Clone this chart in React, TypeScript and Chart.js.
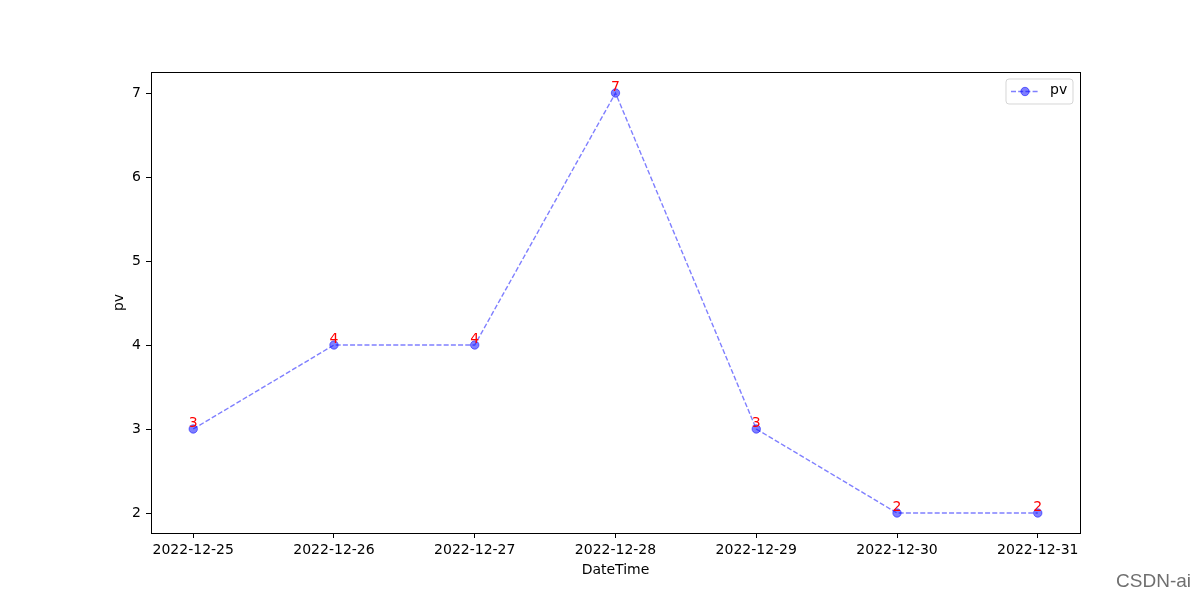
import React, { useEffect, useRef } from "react";
import { Chart, registerables } from "chart.js";

Chart.register(...registerables);

const categories = ["2022-12-25", "2022-12-26", "2022-12-27", "2022-12-28", "2022-12-29", "2022-12-30", "2022-12-31"];
const pvValues = [3, 4, 4, 7, 3, 2, 2];
const yTicks = [2, 3, 4, 5, 6, 7];
const seriesName = "pv";
const xTitle = "DateTime";
const yTitle = "pv";
const watermark = "CSDN-ai";

const FONT = "'DejaVu Sans', sans-serif";
const LINE_COLOR = "rgba(0,0,255,0.5)";

export default function App() {
  const ref = useRef<HTMLCanvasElement | null>(null);

  useEffect(() => {
    if (!ref.current) return;
    const overlay = {
      id: "overlay",
      afterDraw(chart: any) {
        const ctx = chart.ctx;
        const ca = chart.chartArea;
        const xs = chart.scales.x;
        const ys = chart.scales.y;
        ctx.save();
        // frame
        ctx.strokeStyle = "#000";
        ctx.lineWidth = 1;
        ctx.strokeRect(Math.round(ca.left) + 0.5, Math.round(ca.top) + 0.5, Math.round(ca.right - ca.left), Math.round(ca.bottom - ca.top));
        // value labels
        ctx.fillStyle = "red";
        ctx.font = `14px ${FONT}`;
        ctx.textAlign = "center";
        ctx.textBaseline = "alphabetic";
        pvValues.forEach((v, i) => {
          ctx.fillText(String(v), xs.getPixelForValue(i), ys.getPixelForValue(v) - 2.5);
        });
        // axis titles
        ctx.fillStyle = "#000";
        ctx.textBaseline = "middle";
        ctx.fillText(xTitle, (ca.left + ca.right) / 2, 570);
        ctx.save();
        ctx.translate(119, (ca.top + ca.bottom) / 2);
        ctx.rotate(-Math.PI / 2);
        ctx.fillText(yTitle, 0, 0);
        ctx.restore();
        // legend
        const lx = 1006, ly = 79, lw = 67, lh = 25, r = 3;
        ctx.beginPath();
        ctx.moveTo(lx + r, ly);
        ctx.lineTo(lx + lw - r, ly);
        ctx.quadraticCurveTo(lx + lw, ly, lx + lw, ly + r);
        ctx.lineTo(lx + lw, ly + lh - r);
        ctx.quadraticCurveTo(lx + lw, ly + lh, lx + lw - r, ly + lh);
        ctx.lineTo(lx + r, ly + lh);
        ctx.quadraticCurveTo(lx, ly + lh, lx, ly + lh - r);
        ctx.lineTo(lx, ly + r);
        ctx.quadraticCurveTo(lx, ly, lx + r, ly);
        ctx.closePath();
        ctx.fillStyle = "rgba(255,255,255,0.8)";
        ctx.fill();
        ctx.strokeStyle = "rgba(204,204,204,0.8)";
        ctx.lineWidth = 1;
        ctx.stroke();
        ctx.strokeStyle = LINE_COLOR;
        ctx.lineWidth = 1.4;
        ctx.setLineDash([5, 2.2]);
        ctx.beginPath();
        ctx.moveTo(1011, 91.5);
        ctx.lineTo(1039, 91.5);
        ctx.stroke();
        ctx.setLineDash([]);
        ctx.beginPath();
        ctx.arc(1025, 91.5, 4.2, 0, Math.PI * 2);
        ctx.fillStyle = LINE_COLOR;
        ctx.fill();
        ctx.lineWidth = 1;
        ctx.stroke();
        ctx.fillStyle = "#000";
        ctx.textAlign = "left";
        ctx.textBaseline = "middle";
        ctx.font = `14px ${FONT}`;
        ctx.fillText(seriesName, 1050, 90);
        // watermark
        ctx.font = `19px 'Liberation Sans', Arial, sans-serif`;
        ctx.textAlign = "right";
        ctx.textBaseline = "alphabetic";
        ctx.fillStyle = "rgba(95,95,95,0.9)";
        ctx.fillText(watermark, 1191, 587);
        ctx.restore();
      },
    };

    const chart = new Chart(ref.current, {
      type: "line",
      data: {
        datasets: [
          {
            label: seriesName,
            data: pvValues.map((v, i) => ({ x: i, y: v })),
            borderColor: LINE_COLOR,
            backgroundColor: LINE_COLOR,
            borderWidth: 1.4,
            borderDash: [5, 2.2],
            pointRadius: 4.2,
            pointBackgroundColor: LINE_COLOR,
            pointBorderColor: LINE_COLOR,
            pointBorderWidth: 1,
            tension: 0,
            fill: false,
          },
        ],
      },
      options: {
        responsive: false,
        animation: false,
        devicePixelRatio: 1,
        layout: { padding: { left: 0, right: 120, top: 72, bottom: 0 } },
        plugins: { legend: { display: false }, tooltip: { enabled: false } },
        scales: {
          x: {
            type: "linear",
            min: -0.3,
            max: 6.3,
            afterBuildTicks: (s: any) => {
              s.ticks = categories.map((_, i) => ({ value: i }));
            },
            afterFit: (s: any) => {
              s.height = 67;
            },
            ticks: {
              color: "#000",
              font: { family: FONT, size: 14 },
              padding: 4,
              maxRotation: 0,
              autoSkip: false,
              callback: (v: any) => categories[v as number] ?? "",
            },
            grid: { drawOnChartArea: false, drawTicks: true, tickLength: 5, color: "#000" },
            border: { display: true, color: "#000" },
          },
          y: {
            type: "linear",
            min: 1.762,
            max: 7.25,
            afterBuildTicks: (s: any) => {
              s.ticks = yTicks.map((v) => ({ value: v }));
            },
            afterFit: (s: any) => {
              s.width = 151;
            },
            ticks: {
              color: "#000",
              font: { family: FONT, size: 14 },
              padding: 5,
              callback: (v: any) => String(v),
            },
            grid: { drawOnChartArea: false, drawTicks: true, tickLength: 5, color: "#000" },
            border: { display: true, color: "#000" },
          },
        },
      },
      plugins: [overlay],
    } as any);
    return () => chart.destroy();
  }, []);

  return (
    <div style={{ position: "absolute", left: 0, top: 0, width: 1200, height: 600, background: "#fff" }}>
      <canvas ref={ref} width={1200} height={600} style={{ width: 1200, height: 600 }} />
    </div>
  );
}
